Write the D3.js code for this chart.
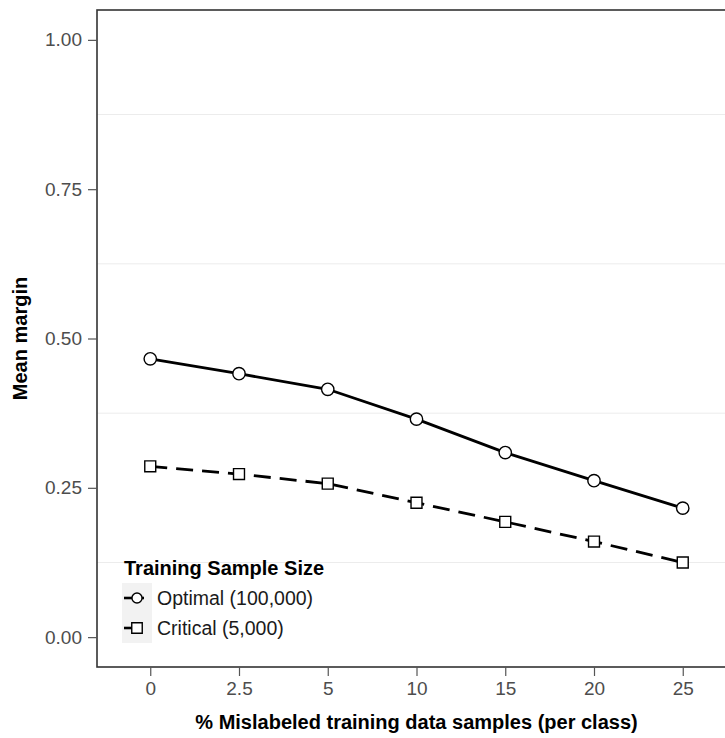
<!DOCTYPE html>
<html>
<head>
<meta charset="utf-8">
<script src="https://cdn.jsdelivr.net/npm/d3@7"></script>
<style>
  body { margin: 0; background: #fff; }
  text { font-family: "Liberation Sans", Arial, sans-serif; }
</style>
</head>
<body>
<div id="chart"></div>
<script>
// data
var categories = ['0', '2.5', '5', '10', '15', '20', '25']
var optimal = [0.466, 0.441, 0.415, 0.365, 0.309, 0.262, 0.216]
var critical = [0.286, 0.273, 0.257, 0.225, 0.193, 0.160, 0.125]
var yTicks = [0, 0.25, 0.5, 0.75, 1]
var yMinor = [0.125, 0.375, 0.625, 0.875]
var seriesNames = ['Optimal (100,000)', 'Critical (5,000)']

var W = 725, H = 738
var pLeft = 97, pRight = 736, pTop = 10, pBottom = 667

var svg = d3.select('#chart').append('svg')
  .attr('width', W)
  .attr('height', H)

var xMap = d3.scalePoint()
  .domain(categories)
  .range([pLeft, pRight])
  .padding(0.6)

var yMap = d3.scaleLinear()
  .domain([-0.05, 1.05])
  .range([pBottom, pTop])

// faint minor grid
svg.append('g').selectAll('line')
  .data(yMinor).enter().append('line')
  .attr('x1', pLeft).attr('x2', pRight)
  .attr('y1', d => yMap(d)).attr('y2', d => yMap(d))
  .style('stroke', '#ececec')
  .style('stroke-width', 1)

function drawSeries(values, dash, shape) {
  var g = svg.append('g')
  var line = d3.line()
    .x((d, i) => xMap(categories[i]))
    .y(d => yMap(d))

  g.append('path')
    .datum(values)
    .style('fill', 'none')
    .style('stroke', '#000')
    .style('stroke-width', 2.8)
    .style('stroke-dasharray', dash)
    .attr('d', line)

  var sym = d3.symbol().type(shape === 'circle' ? d3.symbolCircle : d3.symbolSquare)
    .size(120)

  g.selectAll('.pt')
    .data(values)
    .enter().append('path')
    .attr('transform', (d, i) => 'translate(' + [xMap(categories[i]), yMap(d)] + ')')
    .attr('d', sym)
    .style('fill', '#fff')
    .style('stroke', '#000')
    .style('stroke-width', 1.4)
}

drawSeries(optimal, null, 'circle')
drawSeries(critical, '17,9', 'square')

// panel border
svg.append('rect')
  .attr('x', pLeft).attr('y', pTop)
  .attr('width', pRight - pLeft).attr('height', pBottom - pTop)
  .style('fill', 'none')
  .style('stroke', '#333')
  .style('stroke-width', 1.6)

// axes
var xAxis = d3.axisBottom(xMap).tickSize(9).tickSizeOuter(0)
var gX = svg.append('g')
  .attr('transform', 'translate(0,' + pBottom + ')')
  .call(xAxis)
gX.select('.domain').remove()
gX.selectAll('.tick line').style('stroke', '#555').style('stroke-width', 1.2)
gX.selectAll('.tick text')
  .attr('y', 15)
  .attr('dy', '0.71em')
  .style('font-family', '"Liberation Sans", Arial, sans-serif')
  .style('font-size', '19px')
  .style('fill', '#4d4d4d')

var yAxis = d3.axisLeft(yMap).tickValues(yTicks).tickSize(9).tickFormat(d3.format('.2f'))
var gY = svg.append('g')
  .attr('transform', 'translate(' + pLeft + ',0)')
  .call(yAxis)
gY.select('.domain').remove()
gY.selectAll('.tick line').style('stroke', '#555').style('stroke-width', 1.2)
gY.selectAll('.tick text')
  .attr('x', -15)
  .style('font-family', '"Liberation Sans", Arial, sans-serif')
  .style('font-size', '19px')
  .style('fill', '#4d4d4d')

// axis titles
svg.append('text')
  .attr('x', (pLeft + pRight) / 2)
  .attr('y', 729)
  .style('text-anchor', 'middle')
  .style('font-weight', 'bold')
  .style('font-size', '20px')
  .text('% Mislabeled training data samples (per class)')

svg.append('text')
  .attr('transform', 'translate(27,' + (pTop + pBottom) / 2 + ') rotate(-90)')
  .style('text-anchor', 'middle')
  .style('font-weight', 'bold')
  .style('font-size', '20px')
  .text('Mean margin')

// legend
var gL = svg.append('g').attr('transform', 'translate(122,560)')

gL.append('text')
  .attr('x', 2)
  .attr('y', 15)
  .style('font-weight', 'bold')
  .style('font-size', '20px')
  .text('Training Sample Size')

var keySize = 30
seriesNames.forEach(function(name, i) {
  var ky = 23 + i * keySize
  gL.append('rect')
    .attr('x', 0).attr('y', ky)
    .attr('width', keySize).attr('height', keySize)
    .style('fill', '#f2f2f2')
  var cy = ky + keySize / 2
  gL.append('line')
    .attr('x1', 2).attr('x2', i === 0 ? keySize - 8 : keySize / 2)
    .attr('y1', cy).attr('y2', cy)
    .style('stroke', '#000').style('stroke-width', 2.6)
  gL.append('path')
    .attr('transform', 'translate(' + [keySize / 2, cy] + ')')
    .attr('d', d3.symbol().type(i === 0 ? d3.symbolCircle : d3.symbolSquare).size(i === 0 ? 80 : 110))
    .style('fill', '#fff')
    .style('stroke', '#000')
    .style('stroke-width', 1.4)
  gL.append('text')
    .attr('x', keySize + 5)
    .attr('y', cy)
    .attr('dy', '0.35em')
    .style('font-size', '19.5px')
    .style('fill', '#1a1a1a')
    .text(name)
})
</script>
</body>
</html>
